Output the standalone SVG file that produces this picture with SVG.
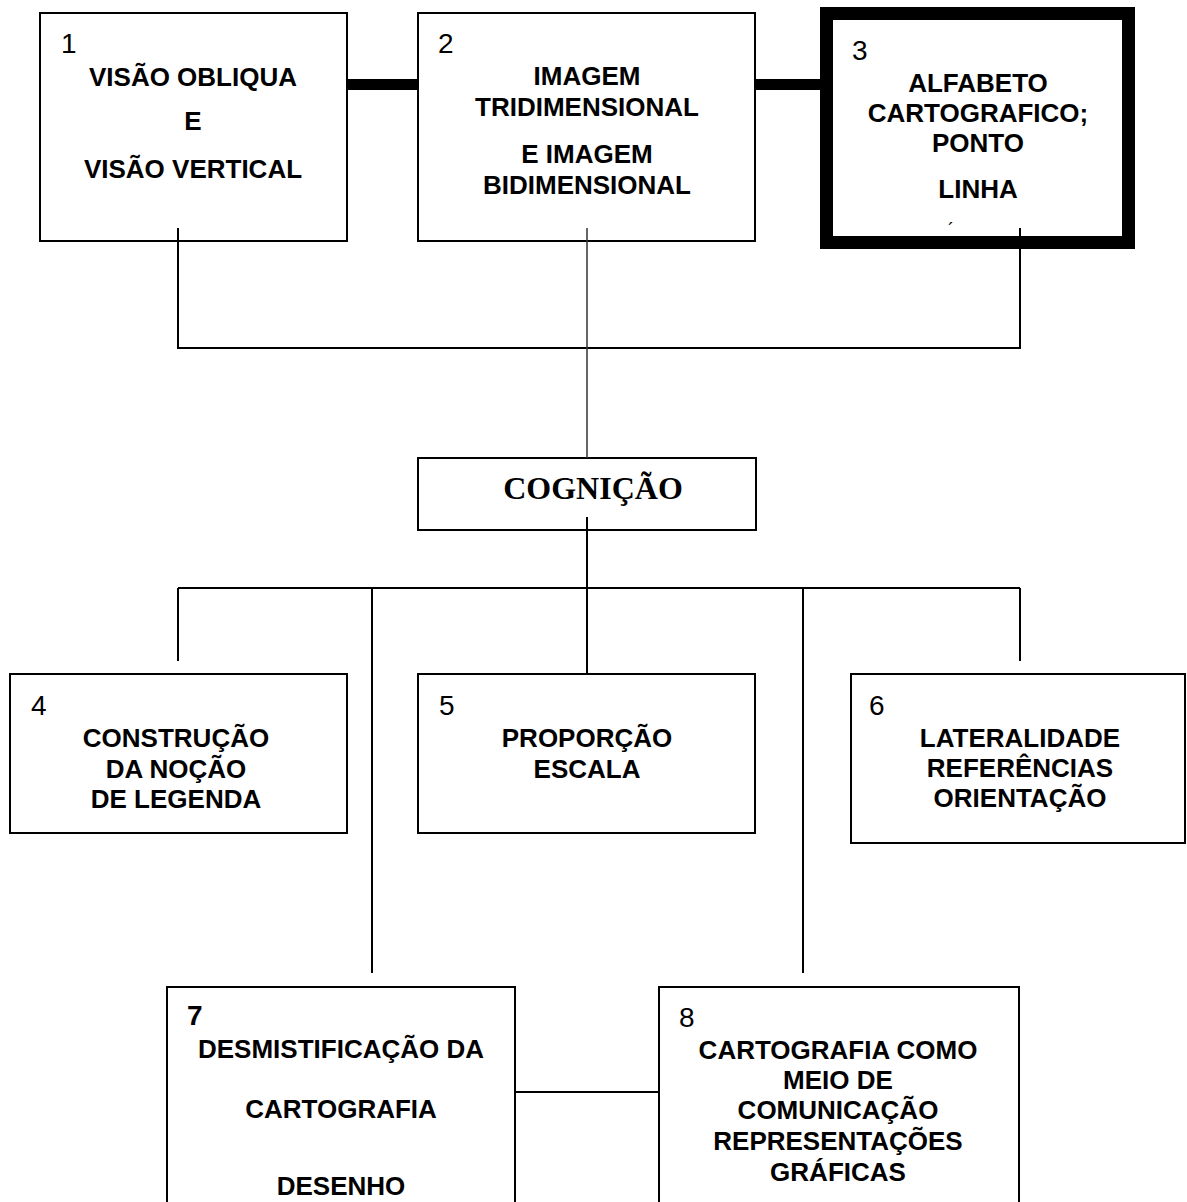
<svg xmlns="http://www.w3.org/2000/svg" width="1187" height="1202" viewBox="0 0 1187 1202">
<style>
.box{fill:#fff;stroke:#000;stroke-width:2}
.thick{fill:#fff;stroke:#000;stroke-width:13}
.ln{stroke:#000;stroke-width:2;fill:none}
.tk{stroke:#000;stroke-width:11;fill:none}
.num{font-family:"Liberation Sans",Arial,sans-serif;font-size:28px;fill:#000}
.t{font-family:"Liberation Sans",Arial,sans-serif;font-size:26px;font-weight:bold;fill:#000;text-anchor:middle}
.s{font-family:"Liberation Serif","Times New Roman",serif;font-size:32px;font-weight:bold;fill:#000;text-anchor:middle}
</style>
<rect width="1187" height="1202" fill="#fff"/>
<g id="node1">
<rect class="box" x="40" y="13" width="307" height="228"/>
<text class="num" x="61" y="53">1</text>
<text class="t" x="193" y="86">VISÃO OBLIQUA</text>
<text class="t" x="193" y="130">E</text>
<text class="t" x="193" y="178">VISÃO VERTICAL</text>
</g>
<g id="node2">
<rect class="box" x="418" y="13" width="337" height="228"/>
<text class="num" x="438" y="53">2</text>
<text class="t" x="587" y="85">IMAGEM</text>
<text class="t" x="587" y="116">TRIDIMENSIONAL</text>
<text class="t" x="587" y="163">E IMAGEM</text>
<text class="t" x="587" y="194">BIDIMENSIONAL</text>
</g>
<g id="node3">
<rect class="thick" x="826.5" y="13.5" width="302" height="229"/>
<text class="num" x="852" y="60">3</text>
<text class="t" x="978" y="92">ALFABETO</text>
<text class="t" x="978" y="122">CARTOGRAFICO;</text>
<text class="t" x="978" y="152">PONTO</text>
<text class="t" x="978" y="198">LINHA</text>
<text class="num" x="948" y="236" style="font-size:18px">´</text>
</g>
<g id="node-cognicao">
<rect class="box" x="418" y="458" width="338" height="72"/>
<text class="s" x="593" y="499">COGNIÇÃO</text>
</g>
<g id="node4">
<rect class="box" x="10" y="674" width="337" height="159"/>
<text class="num" x="31" y="715">4</text>
<text class="t" x="176" y="747">CONSTRUÇÃO</text>
<text class="t" x="176" y="778">DA NOÇÃO</text>
<text class="t" x="176" y="808">DE LEGENDA</text>
</g>
<g id="node5">
<rect class="box" x="418" y="674" width="337" height="159"/>
<text class="num" x="439" y="715">5</text>
<text class="t" x="587" y="747">PROPORÇÃO</text>
<text class="t" x="587" y="778">ESCALA</text>
</g>
<g id="node6">
<rect class="box" x="851" y="674" width="334" height="169"/>
<text class="num" x="869" y="715">6</text>
<text class="t" x="1020" y="747">LATERALIDADE</text>
<text class="t" x="1020" y="777">REFERÊNCIAS</text>
<text class="t" x="1020" y="807">ORIENTAÇÃO</text>
</g>
<g id="node7">
<rect class="box" x="167" y="987" width="348" height="230"/>
<text class="num" x="187" y="1025" style="font-weight:bold">7</text>
<text class="t" x="341" y="1058">DESMISTIFICAÇÃO DA</text>
<text class="t" x="341" y="1118">CARTOGRAFIA</text>
<text class="t" x="341" y="1195">DESENHO</text>
</g>
<g id="node8">
<rect class="box" x="659" y="987" width="360" height="230"/>
<text class="num" x="679" y="1027">8</text>
<text class="t" x="838" y="1059">CARTOGRAFIA COMO</text>
<text class="t" x="838" y="1089">MEIO DE</text>
<text class="t" x="838" y="1119">COMUNICAÇÃO</text>
<text class="t" x="838" y="1150">REPRESENTAÇÕES</text>
<text class="t" x="838" y="1181">GRÁFICAS</text>
</g>
<g id="connectors">
<line class="tk" x1="347" y1="84.5" x2="418" y2="84.5"/>
<line class="tk" x1="755" y1="84.5" x2="820" y2="84.5"/>
<polyline class="ln" points="178,228 178,348 1020,348 1020,228"/>
<line class="ln" x1="587" y1="228" x2="587" y2="458" style="stroke-width:1.5;stroke:#333"/>
<line class="ln" x1="587" y1="517" x2="587" y2="674"/>
<line class="ln" x1="178" y1="588" x2="1020" y2="588"/>
<line class="ln" x1="178" y1="588" x2="178" y2="661"/>
<line class="ln" x1="1020" y1="588" x2="1020" y2="661"/>
<line class="ln" x1="372" y1="588" x2="372" y2="973"/>
<line class="ln" x1="803" y1="588" x2="803" y2="973"/>
<line class="ln" x1="515" y1="1092" x2="659" y2="1092"/>
</g>
</svg>
